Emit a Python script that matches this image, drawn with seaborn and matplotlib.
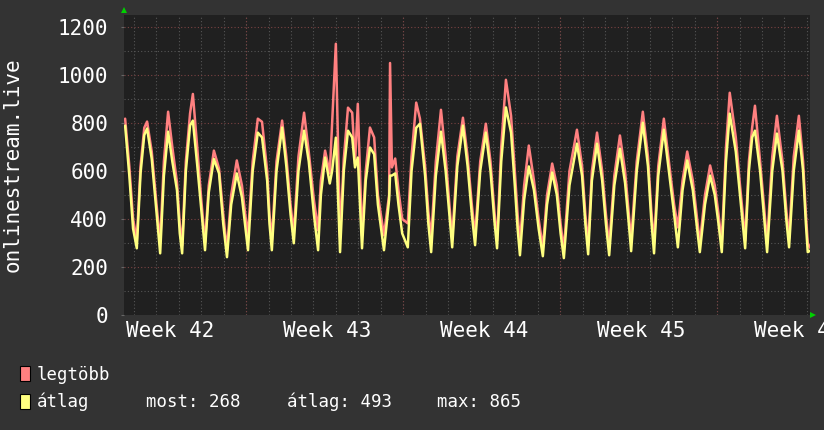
import numpy as np
import pandas as pd
import seaborn as sns
import matplotlib.pyplot as plt
from matplotlib.patches import Rectangle

# hours counted from the first midnight gridline, one row per day
ora = [-9.5, -5, -1,
       3, 7, 11, 14, 19, 24,
       28, 32, 36.5, 41, 46, 49,
       51.5, 55.5, 60, 63, 67.5, 72,
       76, 80, 85.5, 91, 95.5,
       99.5, 104, 110, 115.5, 119,
       122, 127, 132.5, 137, 142.5, 145,
       147.5, 152.5, 158.5, 163, 167.5,
       171, 176, 182, 187, 192.5,
       197, 200, 204.5, 209.5, 212, 216,
       220.5, 224.5, 229, 233.5, 236.5, 239.5,
       244, 248, 252.5, 257, 261,
       267.5, 273, 274, 276, 279.5, 283, 287,
       293, 297, 302, 306, 311.5, 315,
       318, 323, 328.5, 333.5, 337.5,
       340.5, 346, 352, 357, 361.5,
       365, 370.5, 376.5, 381.5, 385.5,
       388.5, 393, 398, 403.5, 407.5, 410.5,
       413, 417.5, 422.5, 428, 433,
       437.5, 442, 447.5, 452.5, 456.5,
       460, 466, 474, 479.5, 483,
       486, 490, 495.5, 501, 505,
       508.5, 514, 520, 525.5, 529.5,
       532, 538, 544.5, 550, 553.5,
       556.5, 561, 567, 573, 578,
       582, 587, 592, 598, 602,
       605.5, 611, 616.5, 621.5, 625.5,
       629, 633.5, 637.5, 644, 648.5, 651.5,
       654, 658, 661.5, 664.5, 670, 674.5,
       677.5, 683, 688, 694, 698,
       701, 706, 711.5, 716, 719,
       721, 723.5]

legtobb = [818, 620, 400,
           311, 620, 780, 806, 680, 465,
           303, 640, 847, 700, 552, 380,
           290, 640, 840, 921, 706, 480,
           300, 540, 685, 610, 420,
           270, 500, 644, 540, 420,
           332, 640, 818, 805, 600, 420,
           311, 640, 810, 660, 460,
           340, 660, 843, 680, 480,
           353, 560, 685, 590, 800, 1130,
           324, 650, 864, 843, 631, 880,
           330, 600, 781, 740, 500,
           332, 500, 1050, 615, 652, 520, 400,
           382, 660, 885, 818, 620, 430,
           320, 640, 855, 660, 460,
           320, 660, 822, 660, 460,
           330, 640, 797, 640, 440,
           310, 700, 980, 830, 600, 420,
           300, 540, 706, 560, 400,
           280, 500, 631, 540, 380,
           270, 600, 772, 620, 420,
           290, 600, 760, 600, 420,
           290, 580, 748, 600, 420,
           311, 640, 847, 660, 440,
           300, 620, 818, 620, 460,
           365, 560, 681, 560, 420,
           300, 500, 623, 540, 420,
           300, 700, 926, 740, 540, 420,
           310, 640, 781, 872, 640, 440,
           300, 660, 830, 640, 440,
           320, 660, 830, 640, 420,
           300, 280]

atlag = [789, 580, 360,
         278, 590, 750, 777, 650, 430,
         257, 580, 764, 640, 520, 340,
         257, 600, 790, 810, 631, 440,
         270, 510, 650, 590, 380,
         241, 460, 590, 490, 370,
         270, 600, 760, 740, 560, 380,
         270, 600, 781, 620, 420,
         299, 600, 768, 640, 420,
         270, 500, 656, 548, 600, 739,
         262, 600, 768, 740, 615, 656,
         278, 560, 698, 670, 460,
         270, 480, 581, 581, 590, 460, 340,
         282, 600, 780, 797, 580, 380,
         262, 580, 764, 600, 420,
         282, 620, 789, 620, 420,
         291, 600, 760, 600, 400,
         278, 640, 865, 760, 540, 360,
         249, 480, 619, 520, 360,
         245, 460, 594, 500, 340,
         237, 540, 714, 580, 380,
         253, 560, 714, 560, 380,
         249, 540, 693, 550, 380,
         266, 600, 801, 620, 400,
         257, 580, 772, 580, 420,
         282, 520, 644, 520, 380,
         262, 460, 581, 500, 380,
         262, 640, 839, 680, 500, 380,
         278, 600, 740, 768, 600, 400,
         262, 600, 756, 600, 400,
         282, 600, 768, 600, 380,
         262, 268]

het_pos = [38.5, 206.5, 374.5, 542.5, 710.5]
het_cimkek = ['Week 42', 'Week 43', 'Week 44', 'Week 45', 'Week 46']
y_ticks = [0, 200, 400, 600, 800, 1000, 1200]

most, atl, mx = 268, 493, 865

df = pd.DataFrame({'ora': ora, 'legtöbb': legtobb, 'átlag': atlag})

sns.set_style('dark')
plt.rcParams['font.family'] = ['DejaVu Sans Mono', 'DejaVu Sans']

W, H = 824, 430
fig = plt.figure(figsize=(W / 100, H / 100), dpi=100, facecolor='#333333')
ax = fig.add_axes([124 / W, (H - 315) / H, 686 / W, 300 / H])
ax.set_facecolor('#202020')

# grid, rrdtool style
minor_c = '#555555'
major_c = '#7a4242'
dots = (0, (1, 2))
for h in range(0, 721, 24):
    ax.axvline(h, color=minor_c, lw=0.8, ls=dots, zorder=1)
for h in [p + 81.5 for p in het_pos[:-1]]:
    ax.axvline(h, color=major_c, lw=0.8, ls=dots, zorder=1.5)
for v in range(100, 1250, 200):
    ax.axhline(v, color=minor_c, lw=0.8, ls=dots, zorder=1)
for v in y_ticks[1:]:
    ax.axhline(v, color=major_c, lw=0.8, ls=dots, zorder=1.5)

sns.lineplot(data=df, x='ora', y='legtöbb', color='#ff8080', lw=1.8, ax=ax,
             zorder=3)
sns.lineplot(data=df, x='ora', y='átlag', color='#ffff80', lw=1.8, ax=ax,
             zorder=4)

ax.set_xlim(-10.7, 723.4)
ax.set_ylim(0, 1250)
ax.set_xticks(het_pos)
ax.set_xticklabels(het_cimkek)
ax.set_yticks(y_ticks)
ax.set_xlabel('')
ax.set_ylabel('')
ax.grid(False)
for s in ax.spines.values():
    s.set_visible(False)
ax.tick_params(axis='x', length=0, pad=4, labelsize=15, labelcolor='white')
ax.tick_params(axis='y', length=2.5, width=0.8, color='#666666', pad=9,
               labelsize=15, labelcolor='white', left=True)

# green axis arrows
ax.plot([0], [1.017], marker='^', color='#00d000', ms=4, mew=0,
        transform=ax.transAxes, clip_on=False)
ax.plot([1.005], [0], marker='>', color='#00d000', ms=4, mew=0,
        transform=ax.transAxes, clip_on=False)

fig.text(13 / W, 1 - 165 / H, 'onlinestream.live', rotation=90,
         color='white', fontsize=15, ha='center', va='center')

# legend
for yb, col in [(381, '#ff8080'), (409, '#ffff80')]:
    fig.add_artist(Rectangle((20 / W, 1 - yb / H), 10 / W, 15 / H,
                             transform=fig.transFigure, facecolor=col,
                             edgecolor='black', lw=0.8))
lf = 12.5
fig.text(37 / W, 1 - 380 / H, 'legtöbb', color='white', fontsize=lf,
         va='baseline')
fig.text(37 / W, 1 - 407 / H, 'átlag', color='white', fontsize=lf,
         va='baseline')
fig.text(146 / W, 1 - 407 / H, f'most: {most}', color='white', fontsize=lf,
         va='baseline')
fig.text(287 / W, 1 - 407 / H, f'átlag: {atl}', color='white', fontsize=lf,
         va='baseline')
fig.text(437 / W, 1 - 407 / H, f'max: {mx}', color='white', fontsize=lf,
         va='baseline')

fig.savefig('out.png', dpi=100, facecolor=fig.get_facecolor())
